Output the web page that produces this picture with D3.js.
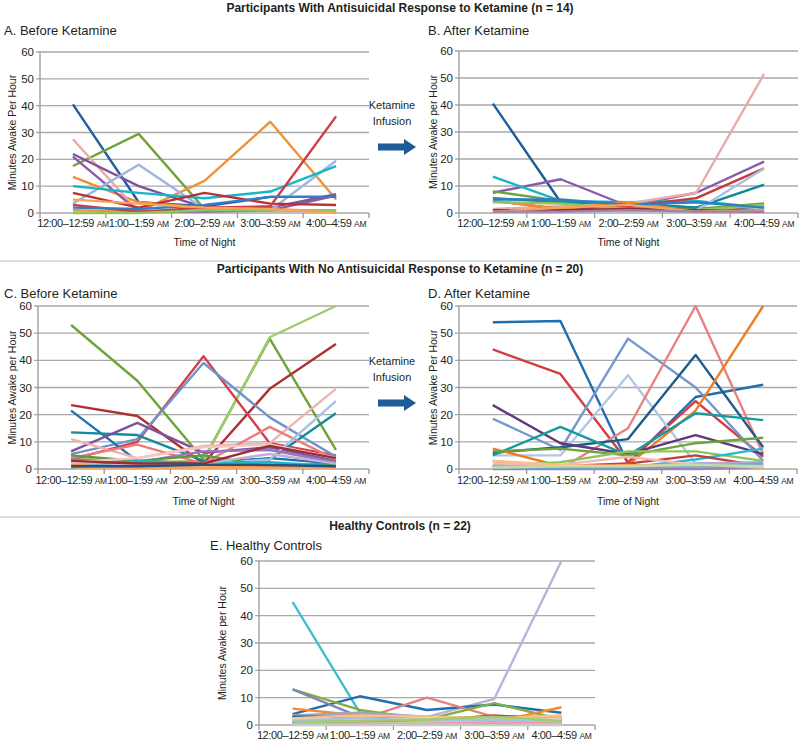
<!DOCTYPE html>
<html>
<head>
<meta charset="utf-8">
<script src="https://cdn.jsdelivr.net/npm/d3@7"></script>
<style>
  body { margin: 0; background: #fff; }
  svg { display: block; font-family: "Liberation Sans", "DejaVu Sans", sans-serif; }
</style>
</head>
<body>
<svg id="chart" width="800" height="741"></svg>
<script>
// time bins on the x axis
const hours = ["12:00–12:59", "1:00–1:59", "2:00–2:59", "3:00–3:59", "4:00–4:59"];
const yTicks = [0, 10, 20, 30, 40, 50, 60];

// minutes awake per hour, one row per participant
const beforeResponders = [
  [40.5, 4, 2.5, 6, 6],
  [17.5, 29.5, 1.5, 1, 1],
  [13.5, 4, 2, 1.5, 0.5],
  [1, 0.5, 12, 34, 5],
  [27.5, 0.5, 1, 1, 0.5],
  [22, 10, 2, 2, 7],
  [21, 0.5, 0.5, 1, 6.5],
  [3.5, 18, 1.5, 1, 19.5],
  [10, 7.5, 5.5, 8, 17.5],
  [7.5, 2, 7.5, 3.5, 3],
  [3, 0.5, 2, 2.5, 36],
  [2, 1.5, 3, 6, 6],
  [0, 0, 1, 1, 1],
  [5, 3.5, 2, 1.5, 0]
];
const afterResponders = [
  [40.5, 4, 3.5, 2, 1],
  [7.5, 12.5, 2.5, 7.5, 19],
  [13.5, 4.5, 4, 4.5, 2],
  [8, 4.5, 2, 1.5, 3.5],
  [5.5, 4, 3.5, 2, 10.5],
  [1.5, 2.5, 3.5, 7.5, 51.5],
  [4.5, 1.5, 2.5, 5.5, 16.5],
  [1, 1, 1, 1, 16.5],
  [4.5, 1.5, 4, 0.5, 3],
  [4, 3.5, 1.5, 1, 3],
  [5, 5, 3, 4, 2],
  [1, 1, 1.5, 1, 0.5],
  [0.5, 2, 3, 0.5, 1],
  [0.5, 0.5, 1, 0.5, 0.5]
];
const beforeNonResponders = [
  [53, 32.5, 3.5, 48, 7],
  [4.5, 2.5, 3, 48.5, 60],
  [23.5, 19.5, 2, 29.5, 46],
  [3.5, 10, 41.5, 9.5, 5],
  [5.5, 11, 39, 19, 4.5],
  [21.5, 3, 2, 4, 2],
  [13.5, 12.5, 3, 3.5, 20.5],
  [6.5, 17, 6, 8, 3],
  [11, 4, 8.5, 9.5, 29.5],
  [4, 9, 2, 15.5, 3.5],
  [2, 2, 2, 3.5, 25],
  [3.5, 2.5, 6.5, 7, 2.5],
  [5, 3, 5, 1, 2],
  [1.5, 0.5, 0.5, 1, 0.5],
  [0.5, 0.5, 0.5, 0.5, 0.5],
  [0.5, 3, 2, 2.5, 1],
  [1, 1.5, 2, 5.5, 2],
  [2.5, 4, 8, 9, 4],
  [3, 2, 2, 8.5, 4],
  [1, 1, 1.5, 1.5, 1]
];
const afterNonResponders = [
  [54, 54.5, 2, 26.5, 31],
  [44, 35, 2.5, 25, 4.5],
  [18.5, 7, 48, 30, 3],
  [5, 5, 34.5, 2, 2],
  [3, 0, 15, 60, 5.5],
  [6, 8, 11, 42, 8],
  [7.5, 1, 1.5, 21.5, 60],
  [23.5, 9.5, 5.5, 12.5, 5.5],
  [5, 15.5, 5, 20.5, 18],
  [6.5, 7.5, 5, 9.5, 11.5],
  [1, 2.5, 6.5, 6.5, 3],
  [1.5, 1, 0.5, 3.5, 7.5],
  [1, 1, 2, 5, 1],
  [1, 1, 1, 2, 2.5],
  [3, 0.5, 1.5, 0.5, 1],
  [0, 0, 0, 0, 0.5],
  [2, 1.5, 4.5, 1.5, 1.5],
  [3, 1.5, 1, 1.5, 0.5],
  [0.5, 0.5, 0.5, 1, 2],
  [0.5, 1, 1, 1.5, 1]
];
const healthyControls = [
  [45, 4.5, 1.5, 1, 1],
  [2, 1.5, 3, 9.5, 60],
  [4, 10.5, 5.5, 7.5, 4.5],
  [3, 2, 10, 3, 3],
  [13, 5.5, 2, 8, 2],
  [13, 3, 2.5, 3, 2],
  [6, 3.5, 2, 1, 6.5],
  [3, 2, 1.5, 3.5, 2],
  [3.5, 4.5, 3, 2, 3],
  [3, 3, 2.5, 2, 1.5],
  [2, 2.5, 2, 1.5, 2.5],
  [1.5, 1, 2.5, 2, 1],
  [0.5, 1.5, 1, 0.5, 0.5],
  [1, 1, 0.5, 1, 1.5],
  [2.5, 3.5, 3, 2.5, 3.5],
  [1, 2, 1.5, 1, 1],
  [0.5, 0.5, 1, 1.5, 0.5],
  [2, 2, 2.5, 2, 2],
  [1.5, 2.5, 1.5, 2, 1],
  [0.5, 0.5, 0.5, 1, 0.5],
  [1, 1.5, 2, 3, 1.5],
  [0, 0, 0, 0, 0]
];

// line colours, kept apart from the values
const colorsA = ["#1f5fa0", "#6fa33a", "#f58a2e", "#f0923a", "#eaa9aa", "#7f52a0", "#8a5aa8",
  "#9db5e0", "#17b6c9", "#b83235", "#cc3d45", "#2e7fc4", "#8cc65a", "#f7a35c"];
const colorsB = ["#1f5b96", "#8a5aa8", "#17b6c9", "#6fa33a", "#108a96", "#eaa9aa", "#c7393b",
  "#a9c0e6", "#f58a2e", "#8cc65a", "#2e7fc4", "#9b2e2e", "#f7a35c", "#9983b5"];
const colorsC = ["#6fa33a", "#9fcb6a", "#b02f33", "#d3404a", "#6f93cc", "#1f70b0", "#148a9a",
  "#7f52a0", "#f1b2b0", "#e87e7e", "#a9c0e6", "#9a76bf", "#5f9a35", "#f58a2e", "#f7a35c",
  "#17b6c9", "#c0b0d8", "#f6c6c4", "#9b2e2e", "#2a4f7a"];
const colorsD = ["#1f70b0", "#d63b3f", "#7597cf", "#b4c6e6", "#e8807f", "#1f5b88", "#ee7d22",
  "#5e3a7c", "#169aa0", "#6fa33a", "#8cc65a", "#2bbad0", "#c7393b", "#b6a6d6", "#f7a35c",
  "#9983b5", "#f3b9b6", "#f9c08c", "#6fa8dc", "#c6df9c"];
const colorsE = ["#3cbdd0", "#bcb2d8", "#1f70b0", "#e8807f", "#7fb040", "#7f86b8", "#f58a2e",
  "#c7393b", "#9aa6c4", "#2a5a8a", "#f3b9b6", "#d6d9a0", "#2bbad0", "#9983b5", "#f9c08c",
  "#169aa0", "#c6df9c", "#e4d6b0", "#a9c0e6", "#f0a0a0", "#9ccf6c", "#c8c8c8"];

const svg = d3.select("#chart");
const gridColor = "#a9a9a9";
const ink = "#231f20";

function drawPanel(p) {
  const g = svg.append("g");
  const x = d3.scaleBand().domain(hours).range([p.x0, p.x1]);
  const y = d3.scaleLinear().domain([0, 60]).range([p.yBot, p.yTop]);

  g.selectAll("line.grid")
    .data(yTicks)
    .enter()
    .append("line")
    .attr("x1", p.x0 - 4)
    .attr("x2", p.x1)
    .attr("y1", d => y(d))
    .attr("y2", d => y(d))
    .attr("stroke", gridColor)
    .attr("stroke-width", 1.3);

  g.selectAll("text.ytick")
    .data(yTicks)
    .enter()
    .append("text")
    .attr("x", p.x0 - 6)
    .attr("y", d => y(d) + 4)
    .attr("text-anchor", "end")
    .attr("font-size", 11.5)
    .attr("fill", ink)
    .text(d => d);

  // y axis line
  g.append("line")
    .attr("x1", p.x0).attr("x2", p.x0)
    .attr("y1", p.yTop).attr("y2", p.yBot)
    .attr("stroke", "#999").attr("stroke-width", 1.3);

  // x axis tick marks at band edges
  const edges = hours.map(h => x(h)).concat([p.x1]);
  g.selectAll("line.xtick")
    .data(edges)
    .enter()
    .append("line")
    .attr("x1", d => d).attr("x2", d => d)
    .attr("y1", p.yBot).attr("y2", p.yBot + 5)
    .attr("stroke", "#999").attr("stroke-width", 1.3);

  const labels = g.selectAll("text.xtick")
    .data(hours)
    .enter()
    .append("text")
    .attr("x", d => x(d) + x.bandwidth() / 2)
    .attr("y", p.labelY)
    .attr("text-anchor", "middle")
    .attr("font-size", 11)
    .attr("letter-spacing", -0.4)
    .attr("fill", ink);
  labels.append("tspan").text(d => d + "\u00a0");
  labels.append("tspan").attr("font-size", 8.5).text("AM");

  const line = d3.line()
    .x((d, i) => x(hours[i]) + x.bandwidth() / 2)
    .y(d => y(d));

  g.selectAll("path.series")
    .data(p.data)
    .enter()
    .append("path")
    .attr("d", line)
    .attr("fill", "none")
    .attr("stroke", (d, i) => p.colors[i])
    .attr("stroke-width", 2.4)
    .attr("stroke-linejoin", "round");

  g.append("text")
    .attr("x", p.titleX)
    .attr("y", p.titleY)
    .attr("font-size", 13)
    .attr("fill", ink)
    .text(p.title);

  const midY = (p.yTop + p.yBot) / 2;
  g.append("text")
    .attr("transform", `translate(${p.yLabelX},${midY}) rotate(-90)`)
    .attr("text-anchor", "middle")
    .attr("font-size", 10.5)
    .attr("fill", ink)
    .text(p.yLabel);

  if (p.xTitleY) {
    g.append("text")
      .attr("x", (p.x0 + p.x1) / 2)
      .attr("y", p.xTitleY)
      .attr("text-anchor", "middle")
      .attr("font-size", 10.5)
      .attr("fill", ink)
      .text("Time of Night");
  }
}

function drawArrow(cx, ty) {
  svg.append("text").attr("x", cx).attr("y", ty).attr("text-anchor", "middle")
    .attr("font-size", 11).attr("fill", ink).text("Ketamine");
  svg.append("text").attr("x", cx).attr("y", ty + 16).attr("text-anchor", "middle")
    .attr("font-size", 11).attr("fill", ink).text("Infusion");
  const ay = ty + 38;
  svg.append("path")
    .attr("d", `M${cx - 14},${ay - 3.5} L${cx + 12},${ay - 3.5} L${cx + 12},${ay - 8} L${cx + 24},${ay} L${cx + 12},${ay + 8} L${cx + 12},${ay + 3.5} L${cx - 14},${ay + 3.5} Z`)
    .attr("fill", "#1f5b96");
}

function heading(text, y) {
  svg.append("text")
    .attr("x", 400).attr("y", y)
    .attr("text-anchor", "middle")
    .attr("font-size", 12)
    .attr("font-weight", "bold")
    .attr("fill", ink)
    .text(text);
}

function separator(y) {
  svg.append("line").attr("x1", 0).attr("x2", 800).attr("y1", y).attr("y2", y)
    .attr("stroke", "#d0d0d0").attr("stroke-width", 1.5);
}

heading("Participants With Antisuicidal Response to Ketamine (n = 14)", 12);
drawPanel({ data: beforeResponders, colors: colorsA, x0: 40, x1: 369, yTop: 52, yBot: 213,
  labelY: 227, title: "A. Before Ketamine", titleX: 4, titleY: 35,
  yLabel: "Minutes Awake Per Hour", yLabelX: 16, xTitleY: 246 });
drawPanel({ data: afterResponders, colors: colorsB, x0: 459, x1: 798, yTop: 51, yBot: 213,
  labelY: 227, title: "B. After Ketamine", titleX: 428, titleY: 35,
  yLabel: "Minutes Awake per Hour", yLabelX: 437, xTitleY: 246 });
drawArrow(392, 109);
separator(261);

heading("Participants With No Antisuicidal Response to Ketamine (n = 20)", 273);
drawPanel({ data: beforeNonResponders, colors: colorsC, x0: 38, x1: 369, yTop: 306, yBot: 469,
  labelY: 484, title: "C. Before Ketamine", titleX: 4, titleY: 298,
  yLabel: "Minutes Awake per Hour", yLabelX: 16, xTitleY: 505 });
drawPanel({ data: afterNonResponders, colors: colorsD, x0: 459, x1: 797, yTop: 306, yBot: 469,
  labelY: 484, title: "D. After Ketamine", titleX: 428, titleY: 298,
  yLabel: "Minutes Awake Per Hour", yLabelX: 437, xTitleY: 505 });
drawArrow(392, 365);
separator(517);

heading("Healthy Controls (n = 22)", 530);
drawPanel({ data: healthyControls, colors: colorsE, x0: 259, x1: 595, yTop: 561, yBot: 725,
  labelY: 739, title: "E. Healthy Controls", titleX: 210, titleY: 550,
  yLabel: "Minutes Awake per Hour", yLabelX: 226, xTitleY: null });
</script>
</body>
</html>
